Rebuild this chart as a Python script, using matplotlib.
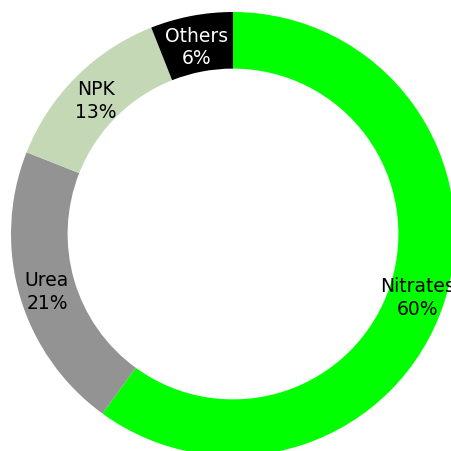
import matplotlib
matplotlib.use("Agg")
import matplotlib.pyplot as plt
import numpy as np

categories = ["Nitrates", "Urea", "NPK", "Others"]
shares = [60, 21, 13, 6]
colors = ["#00ff00", "#939393", "#c4d8b6", "#000000"]
text_colors = ["black", "black", "black", "white"]

fig = plt.figure(figsize=(4.52, 4.52), dpi=100)
ax = fig.add_axes([0, 0, 1, 1])
wedges, texts = ax.pie(shares, colors=colors, startangle=90, counterclock=False,
                       radius=1.0, wedgeprops=dict(width=0.255, linewidth=0))
total = sum(shares)
start = 90.0
lr = 1.0 - 0.1275
for cat, v, tc in zip(categories, shares, text_colors):
    ang = start - 360.0 * v / total / 2
    start -= 360.0 * v / total
    x = lr * np.cos(np.radians(ang))
    y = lr * np.sin(np.radians(ang)) - 3 / 222
    ax.text(x, y, f"{cat}\n{v}%", ha="center", va="center", fontsize=13.5,
            color=tc, family="DejaVu Sans", linespacing=1.22)
ax.set_xlim(-233 / 222, (452 - 233) / 222)
ax.set_ylim(-(452 - 235) / 222, 235 / 222)
ax.set_aspect("equal")
ax.axis("off")
fig.savefig("out.png", dpi=100)
